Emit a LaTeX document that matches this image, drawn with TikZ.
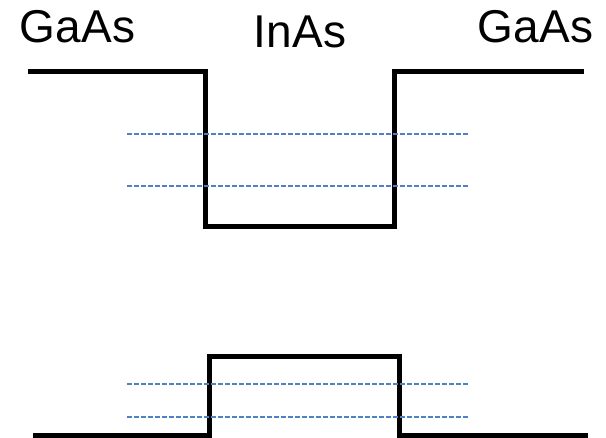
\documentclass[tikz,border=0pt]{standalone}
\usepackage{fontspec}
\setmainfont{Liberation Sans}
\definecolor{lvl}{RGB}{79,129,199}
\begin{document}
\begin{tikzpicture}[x=1pt,y=-1pt,
  band/.style={line width=5pt,line join=miter,black},
  level/.style={lvl,line width=1.5pt,dash pattern=on 4.5pt off 2.5pt},
  lbl/.style={font=\fontsize{46}{50}\selectfont,anchor=base,inner sep=0pt}]
\useasboundingbox (0,0) rectangle (606,438);
\node[lbl] (g1) at (77.5,43) {GaAs};
\node[lbl] (in) at (300,48) {InAs};
\node[lbl] (g2) at (535.5,43) {GaAs};
% conduction band
\coordinate (c1) at (28,72);
\coordinate (c2) at (205,72);
\coordinate (c3) at (205,227);
\coordinate (c4) at (394,227);
\coordinate (c5) at (394,72);
\coordinate (c6) at (584,72);
\draw[band] (c1) -- (c2) -- (c3) -- (c4) -- (c5) -- (c6);
% valence band
\coordinate (v1) at (33,436);
\coordinate (v2) at (209,436);
\coordinate (v3) at (209,357);
\coordinate (v4) at (399,357);
\coordinate (v5) at (399,436);
\coordinate (v6) at (588,436);
\draw[band] (v1) -- (v2) -- (v3) -- (v4) -- (v5) -- (v6);
% levels
\coordinate (e1a) at (127,134); \coordinate (e1b) at (469,134);
\coordinate (e2a) at (127,186); \coordinate (e2b) at (469,186);
\coordinate (h1a) at (127,384); \coordinate (h1b) at (469,384);
\coordinate (h2a) at (127,417); \coordinate (h2b) at (469,417);
\draw[level] (e1a) -- (e1b);
\draw[level] (e2a) -- (e2b);
\draw[level] (h1a) -- (h1b);
\draw[level] (h2a) -- (h2b);
\end{tikzpicture}
\end{document}
